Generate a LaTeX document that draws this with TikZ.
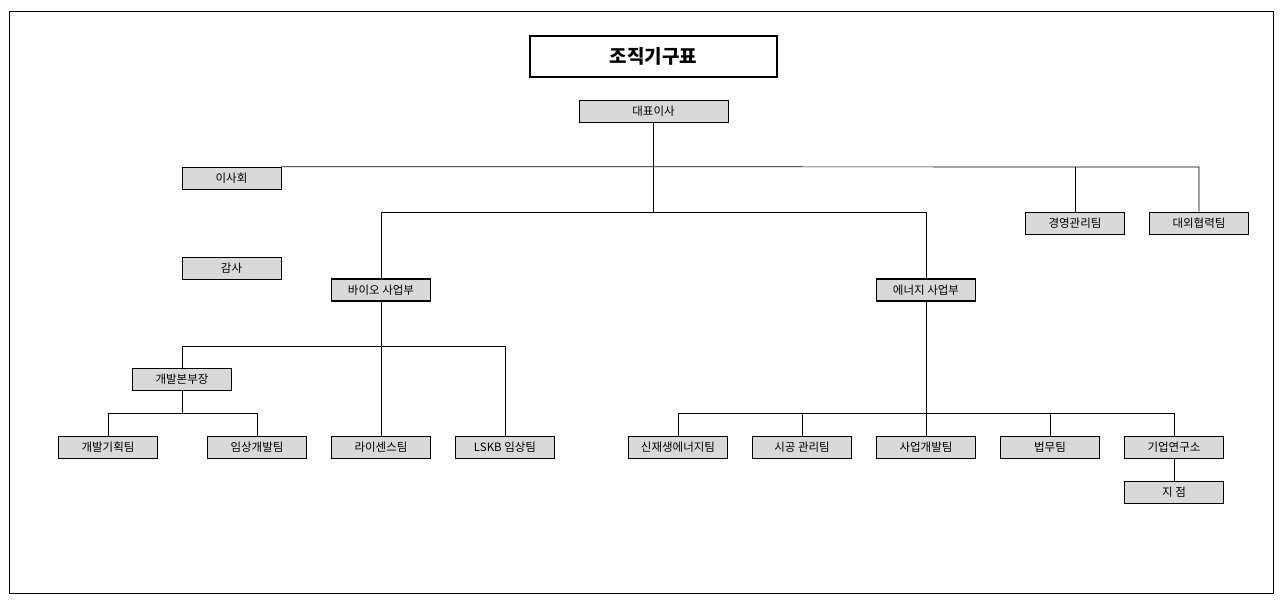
\documentclass[tikz,border=0pt]{standalone}
\usepackage{fontspec}
\setmainfont{Noto Sans CJK KR}
\begin{document}
\begin{tikzpicture}[x=1pt,y=-1pt,
  bx/.style={draw,fill=gray!30,minimum width=99pt,minimum height=22pt,inner sep=0pt,font=\fontsize{11.5}{13}\selectfont,line width=0.7pt},
  thk/.style={bx,line width=1.4pt},
  ln/.style={line width=0.7pt}]
\useasboundingbox (0,0) rectangle (1282,602);
\draw[line width=0.7pt] (9,11) rectangle (1273,593);
\node[draw,line width=1.4pt,minimum width=247pt,minimum height=41pt,font=\bfseries\fontsize{19}{22}\selectfont] (title) at (653.5,56.5) {조직기구표};
\node[bx,minimum width=149pt] (ceo) at (653.5,111.5) {대표이사};
\node[bx] (board) at (231.5,178) {이사회};
\node[bx] (audit) at (231.5,268) {감사};
\node[bx] (mgmt) at (1075,223) {경영관리팀};
\node[bx] (ext) at (1199,223) {대외협력팀};
\node[thk] (bio) at (381,290) {바이오 사업부};
\node[thk] (en) at (926,290) {에너지 사업부};
\node[bx] (dev) at (182,379) {개발본부장};
\node[bx] (dp) at (108,447) {개발기획팀};
\node[bx] (cd) at (257,447) {임상개발팀};
\node[bx] (lic) at (381,447) {라이센스팀};
\node[bx] (lskb) at (505,447) {LSKB 임상팀};
\node[bx] (re) at (678,447) {신재생에너지팀};
\node[bx] (con) at (802,447) {시공 관리팀};
\node[bx] (bd) at (926,447) {사업개발팀};
\node[bx] (law) at (1050,447) {법무팀};
\node[bx] (lab) at (1174,447) {기업연구소};
\node[bx] (br) at (1174,492) {지 점};
\draw[ln] (ceo.south) -- (653.5,212);
\draw[ln] (board.north east) -- (1199,167) -- (ext.north);
\draw[ln] (1075,167) -- (mgmt.north);
\draw[ln] (bio.north) -- (381,212) -- (926,212) -- (en.north);
\draw[ln] (bio.south) -- (lic.north);
\draw[ln] (dev.north) -- (182,346) -- (505,346) -- (lskb.north);
\draw[ln] (dev.south) -- (182,413);
\draw[ln] (dp.north) -- (108,413) -- (257,413) -- (cd.north);
\draw[ln] (en.south) -- (bd.north);
\draw[ln] (re.north) -- (678,413) -- (1174,413) -- (lab.north);
\draw[ln] (802,413) -- (con.north);
\draw[ln] (1050,413) -- (law.north);
\draw[ln] (lab.south) -- (br.north);
\end{tikzpicture}
\end{document}
